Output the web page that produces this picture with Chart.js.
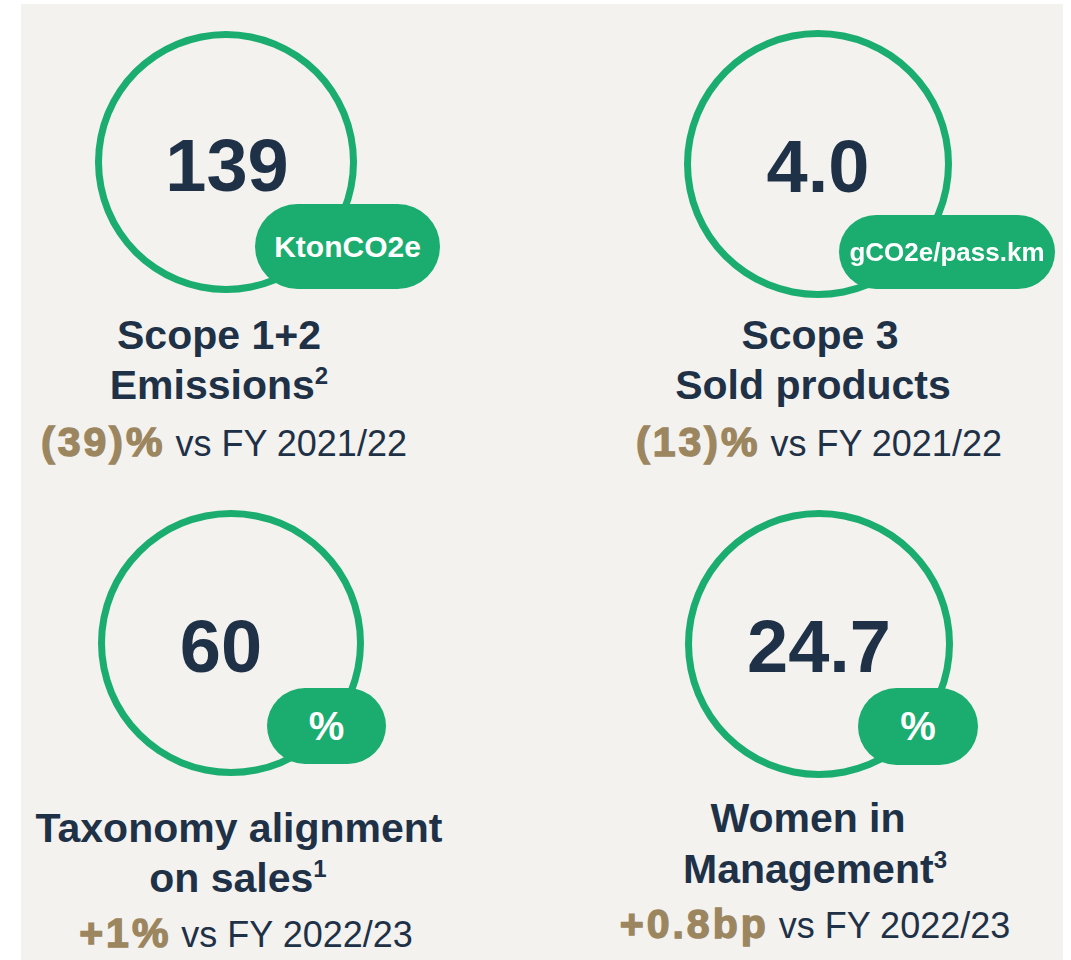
<!DOCTYPE html>
<html>
<head>
<meta charset="utf-8">
<script src="https://cdn.jsdelivr.net/npm/chart.js@4/dist/chart.umd.min.js"></script>
<style>
  html, body { margin:0; padding:0; background:#ffffff; }
  body { width:1071px; height:960px; overflow:hidden; position:relative; font-family:"Liberation Sans", Arial, sans-serif; }
  #panel { position:absolute; left:21px; top:4px; width:1042px; height:956px; background:#f3f2ee; }
  .ring { position:absolute; }
  .t { position:absolute; white-space:nowrap; line-height:1; transform:translateX(-50%); color:#1e3147; }
  .num { font-weight:bold; font-size:74px; }
  .pill { position:absolute; background:#1bad6f; color:#ffffff; font-weight:bold; display:flex; align-items:center; justify-content:center; white-space:nowrap; }
  .title { font-weight:bold; font-size:41px; }
  .sup { font-size:24px; position:relative; top:-15px; }
  .chg { font-size:36px; }
  .chg b { color:#9c8660; font-size:41px; letter-spacing:3px; -webkit-text-stroke:1.4px #9c8660; }
</style>
</head>
<body>
<div id="panel"></div>
<script>
// ---- data ----
const kpiValues   = ["139", "4.0", "60", "24.7"];
const kpiUnits    = ["KtonCO2e", "gCO2e/pass.km", "%", "%"];
const titleLine1  = ["Scope 1+2", "Scope 3", "Taxonomy alignment", "Women in"];
const titleLine2  = ["Emissions", "Sold products", "on sales", "Management"];
const footnotes   = ["2", "", "1", "3"];
const changes     = ["(39)%", "(13)%", "+1%", "+0.8bp"];
const comparedTo  = ["FY 2021/22", "FY 2021/22", "FY 2022/23", "FY 2022/23"];
const ringShare   = [100, 100, 100, 100];

// ---- layout (positions only) ----
const layout = [
  { cx:226, cy:162, r:131, numX:227, numB:192, pill:[255,204,185,85,30], tx:[219,219,224], tb:[350,400,452] },
  { cx:818, cy:164, r:134, numX:818, numB:193, pill:[839,215,216,74,26], tx:[820,813,819], tb:[350,400,452] },
  { cx:231, cy:643, r:133, numX:221, numB:673, pill:[267,688,119,76,40], tx:[239,238,246], tb:[843,893,943] },
  { cx:819, cy:644, r:134, numX:819, numB:673, pill:[858,688,120,77,40], tx:[808,815,815], tb:[833,884,934] }
];

function addText(cls, html, x, baseline, fs) {
  const d = document.createElement('div');
  d.className = 't ' + cls;
  d.innerHTML = html;
  d.style.left = x + 'px';
  d.style.top = (baseline - 0.8465 * fs) + 'px';
  document.body.appendChild(d);
  return d;
}

kpiValues.forEach((val, i) => {
  const L = layout[i];
  const cv = document.createElement('canvas');
  cv.className = 'ring';
  cv.width = L.r * 2; cv.height = L.r * 2;
  cv.style.left = (L.cx - L.r) + 'px';
  cv.style.top = (L.cy - L.r) + 'px';
  cv.style.width = (L.r * 2) + 'px';
  cv.style.height = (L.r * 2) + 'px';
  document.body.appendChild(cv);
  new Chart(cv, {
    type: 'doughnut',
    data: {
      labels: [titleLine1[i] + ' ' + titleLine2[i]],
      datasets: [{ data: [ringShare[i]], backgroundColor: ['#1bad6f'], borderWidth: 0, hoverOffset: 0, offset: 0 }]
    },
    options: {
      responsive: false,
      animation: false,
      cutout: L.r - 7,
      layout: { padding: 0 },
      events: [],
      plugins: { legend: { display: false }, tooltip: { enabled: false } }
    }
  });

  addText('num', val, L.numX, L.numB, 74);

  const p = document.createElement('div');
  p.className = 'pill';
  const [px, py, pw, ph, pfs] = L.pill;
  p.style.left = px + 'px'; p.style.top = py + 'px';
  p.style.width = pw + 'px'; p.style.height = ph + 'px';
  p.style.borderRadius = (ph / 2) + 'px';
  p.style.fontSize = pfs + 'px';
  p.textContent = kpiUnits[i];
  document.body.appendChild(p);

  addText('title', titleLine1[i], L.tx[0], L.tb[0], 41);
  addText('title', titleLine2[i] + (footnotes[i] ? '<span class="sup">' + footnotes[i] + '</span>' : ''), L.tx[1], L.tb[1], 41);
  addText('chg', '<b>' + changes[i] + '</b> vs ' + comparedTo[i], L.tx[2], L.tb[2], 36);
});
</script>
</body>
</html>
